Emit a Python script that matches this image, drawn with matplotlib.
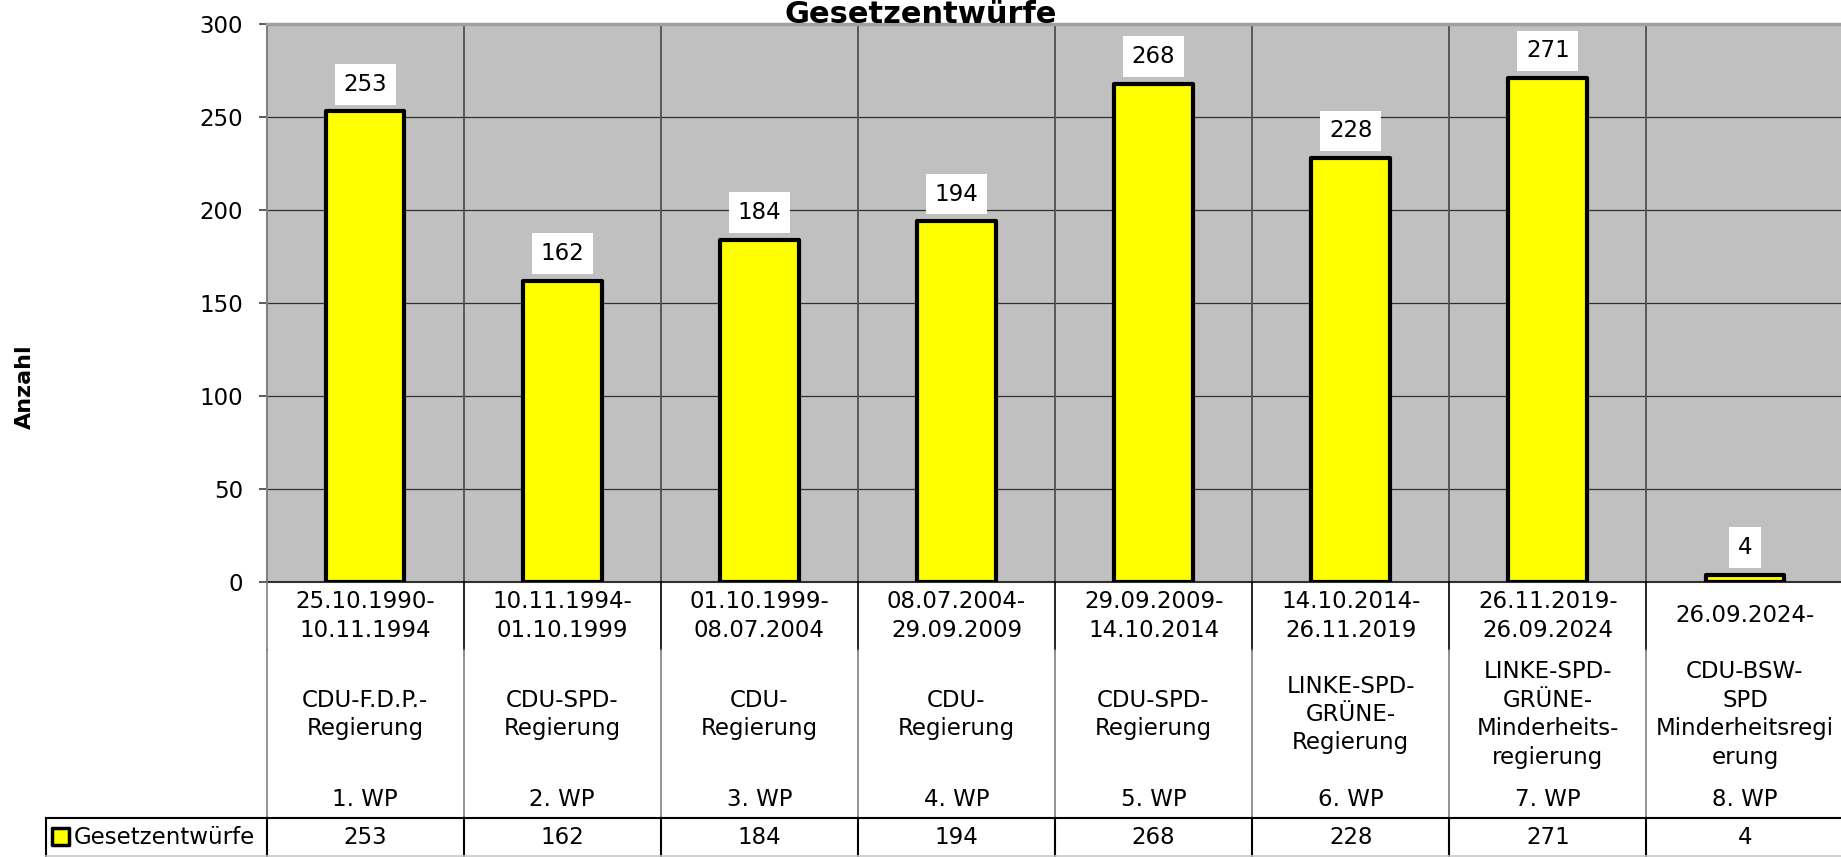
import matplotlib.pyplot as plt
from matplotlib.patches import Rectangle
from matplotlib.lines import Line2D
from matplotlib.transforms import blended_transform_factory

# Data
series_name = 'Gesetzentwürfe'
values = [253, 162, 184, 194, 268, 228, 271, 4]
periods = ['25.10.1990-\n10.11.1994', '10.11.1994-\n01.10.1999', '01.10.1999-\n08.07.2004',
           '08.07.2004-\n29.09.2009', '29.09.2009-\n14.10.2014', '14.10.2014-\n26.11.2019',
           '26.11.2019-\n26.09.2024', '26.09.2024-']
governments = ['CDU-F.D.P.-\nRegierung', 'CDU-SPD-\nRegierung', 'CDU-\nRegierung', 'CDU-\nRegierung',
               'CDU-SPD-\nRegierung', 'LINKE-SPD-\nGRÜNE-\nRegierung',
               'LINKE-SPD-\nGRÜNE-\nMinderheits-\nregierung', 'CDU-BSW-\nSPD\nMinderheitsregi\nerung']
periods_wp = ['1. WP', '2. WP', '3. WP', '4. WP', '5. WP', '6. WP', '7. WP', '8. WP']
y_ticks = [0, 50, 100, 150, 200, 250, 300]

W, H = 1841, 857
FS = 16.5


def fy(px):
    # pixel row (from top) -> figure fraction
    return 1 - px / H


fig = plt.figure(figsize=(W / 100, H / 100), dpi=100)
plot_left, plot_right, plot_top, plot_bottom = 266.5, 1843.5, 24, 582
ax = fig.add_axes([plot_left / W, fy(plot_bottom), (plot_right - plot_left) / W,
                   (plot_bottom - plot_top) / H])
ax.set_facecolor('#C0C0C0')

n = len(values)
xpos = [i + 0.5 for i in range(n)]
ax.bar(xpos, values, width=0.4, color='#FFFF00', edgecolor='black', linewidth=3,
       joinstyle='round', zorder=3)

for x, v in zip(xpos, values):
    ax.annotate(str(v), (x, v), xytext=(0, 19.5), textcoords='offset points',
                ha='center', va='center', fontsize=FS, zorder=5,
                bbox=dict(boxstyle='square,pad=0.38', fc='white', ec='none'))

ax.set_xlim(0, n)
ax.set_ylim(0, 300)
ax.set_yticks(y_ticks)
ax.set_xticks([])
ax.tick_params(axis='y', direction='out', length=5.8, width=1.2, color='#404040',
               pad=11, labelsize=FS)
ax.yaxis.grid(True, color='#303030', linewidth=0.9)
ax.set_axisbelow(True)
ax.vlines(range(1, n), 0, 300, color='#505050', linewidth=1.3, zorder=1)

ax.spines['left'].set_color('#808080')
ax.spines['left'].set_linewidth(1.5)
ax.spines['top'].set_color('#A0A0A0')
ax.spines['top'].set_linewidth(2.5)
ax.spines['bottom'].set_color('#303030')
ax.spines['bottom'].set_linewidth(1.5)
ax.spines['right'].set_visible(False)

# Title and y label
fig.text(0.5, fy(23), 'Gesetzentwürfe', ha='center', va='baseline', fontsize=22,
         fontweight='bold')
fig.text(25 / W, fy(387), 'Anzahl', rotation=90, ha='center', va='center',
         fontsize=16, fontweight='bold')

# Data table below the plot
trans = blended_transform_factory(ax.transData, fig.transFigure)
for k in range(0, n + 1):
    upper_col = '#808080' if k == 0 else 'black'
    fig.add_artist(Line2D([k, k], [fy(582), fy(650)], transform=trans, color=upper_col,
                          linewidth=1.2))
    fig.add_artist(Line2D([k, k], [fy(650), fy(818)], transform=trans, color='#808080',
                          linewidth=1.2))
    fig.add_artist(Line2D([k, k], [fy(818), fy(857)], transform=trans, color='black',
                          linewidth=1.5))

fig.add_artist(Line2D([46 / W, 1], [fy(818), fy(818)], transform=fig.transFigure,
                      color='black', linewidth=1.5))
fig.add_artist(Line2D([46 / W, 46 / W], [fy(818), fy(857)], transform=fig.transFigure,
                      color='black', linewidth=1.5))
fig.add_artist(Line2D([46 / W, 1], [fy(856), fy(856)], transform=fig.transFigure,
                      color='#C8C8C8', linewidth=1.2))

for x, p, g, w, v in zip(xpos, periods, governments, periods_wp, values):
    fig.text(x, fy(616), p, transform=trans, ha='center', va='center', fontsize=FS,
             linespacing=1.3, multialignment='center')
    fig.text(x, fy(714.5), g, transform=trans, ha='center', va='center', fontsize=FS,
             linespacing=1.3, multialignment='center')
    fig.text(x, fy(799), w, transform=trans, ha='center', va='center', fontsize=FS)
    fig.text(x, fy(837), str(v), transform=trans, ha='center', va='center', fontsize=FS)

# legend key in the table row
fig.add_artist(Rectangle((52 / W, fy(845)), 17 / W, 17 / H, transform=fig.transFigure,
                         facecolor='#FFFF00', edgecolor='black', linewidth=2.5,
                         joinstyle='round'))
fig.text(74 / W, fy(837), series_name, ha='left', va='center', fontsize=FS)

fig.savefig('out.png', dpi=100)
